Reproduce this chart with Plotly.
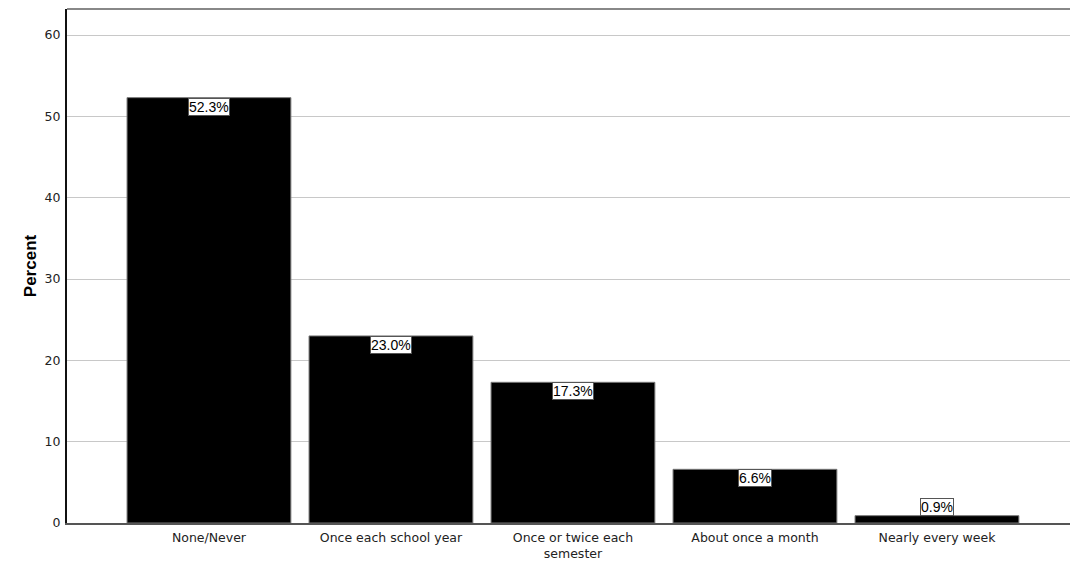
import plotly.graph_objects as go

categories = ["None/Never", "Once each school year", "Once or twice each<br>semester",
              "About once a month", "Nearly every week"]
percents = [52.3, 23.0, 17.3, 6.6, 0.9]
labels = ["52.3%", "23.0%", "17.3%", "6.6%", "0.9%"]
yticks = [0, 10, 20, 30, 40, 50, 60]

fig = go.Figure()
fig.add_trace(go.Bar(
    x=list(range(len(categories))), y=percents, width=0.9,
    marker=dict(color="black", line=dict(color="#777777", width=1)),
    hoverinfo="skip",
))

for i, (v, t) in enumerate(zip(percents, labels)):
    fig.add_annotation(
        x=i, y=v, text=t, showarrow=False,
        yanchor="top" if v > 3 else "bottom",
        bgcolor="white", bordercolor="#555555", borderwidth=1, borderpad=0,
        font=dict(family="Arial, Liberation Sans", size=14, color="black"),
    )

fig.add_shape(type="line", xref="paper", yref="paper", x0=0, x1=1, y0=1, y1=1,
              line=dict(color="#888888", width=2))

fig.update_layout(
    width=1070, height=561,
    margin=dict(l=67, r=0, t=9, b=38),
    plot_bgcolor="white", paper_bgcolor="white",
    showlegend=False,
    font=dict(family="DejaVu Sans", size=12, color="#333333"),
    xaxis=dict(
        range=[-0.78, 4.731],
        tickmode="array", tickvals=list(range(len(categories))), ticktext=categories,
        showgrid=False, zeroline=False,
        showline=True, linecolor="#555555", linewidth=2,
        ticks="", ticklabelstandoff=2,
        tickfont=dict(family="DejaVu Sans", size=12.5, color="#222222"),
    ),
    yaxis=dict(
        range=[0, 63.2],
        tickmode="array", tickvals=yticks,
        showgrid=True, gridcolor="#c8c8c8", gridwidth=1,
        zeroline=False,
        showline=True, linecolor="#111111", linewidth=2,
        ticks="", ticklabelstandoff=2,
        tickfont=dict(family="DejaVu Sans", size=12.5, color="#222222"),
        title=dict(text="<b>Percent</b>", font=dict(family="Arial, Liberation Sans", size=17, color="black"), standoff=4),
    ),
)

fig.write_html(
    "out.html",
    config={"displayModeBar": False},
    post_script="document.body.style.margin='0';document.body.style.overflow='hidden';",
)
